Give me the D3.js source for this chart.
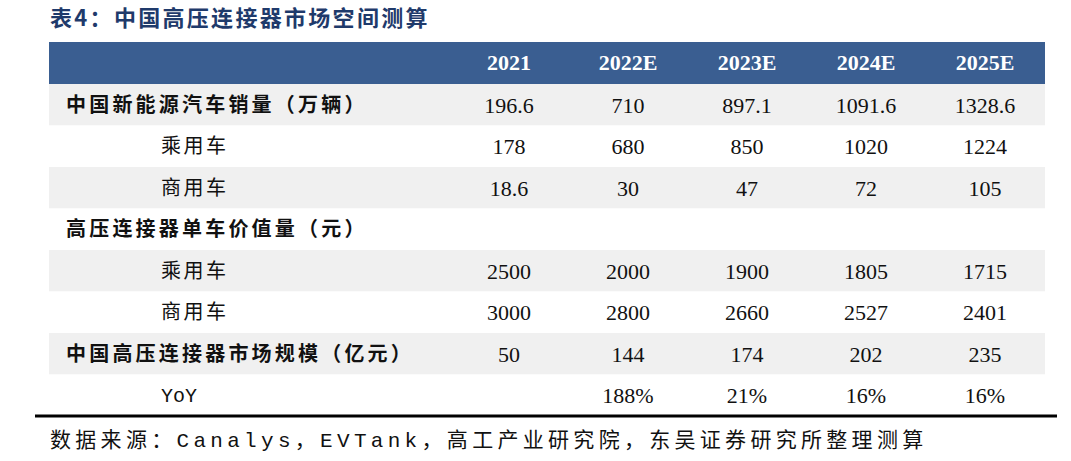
<!DOCTYPE html>
<html><head><meta charset="utf-8">
<script src="https://cdn.jsdelivr.net/npm/d3@7"></script>
<style>body{margin:0;background:#fff}</style></head>
<body><svg id="c" width="1071" height="461"></svg>
<script>
const title = "表4：中国高压连接器市场空间测算";
const years = ["2021","2022E","2023E","2024E","2025E"];
const rowLabels = ["中国新能源汽车销量（万辆）","乘用车","商用车","高压连接器单车价值量（元）","乘用车","商用车","中国高压连接器市场规模（亿元）","YoY"];
const rowBold = [true,false,false,true,false,false,true,false];
const rowValues = [
  ["196.6","710","897.1","1091.6","1328.6"],
  ["178","680","850","1020","1224"],
  ["18.6","30","47","72","105"],
  ["","","","",""],
  ["2500","2000","1900","1805","1715"],
  ["3000","2800","2660","2527","2401"],
  ["50","144","174","202","235"],
  ["","188%","21%","16%","16%"]
];
const source = "数据来源：Canalys，EVTank，高工产业研究院，东吴证券研究所整理测算";

const svg = d3.select("#c");
const x = d3.scalePoint().domain(years).range([509,985]);
const y = d3.scaleBand().domain(d3.range(rowLabels.length)).range([84,416]).padding(0);
const serif = "'Liberation Serif','Noto Sans CJK SC',serif";
const cjk = "'Noto Sans CJK SC',sans-serif";

svg.append("text").attr("x",50).attr("y",26).text(title)
  .attr("font-family",cjk).attr("font-weight","bold").attr("font-size",22).attr("letter-spacing",2.3).attr("fill","#1F3A6B");

svg.append("rect").attr("x",49).attr("y",42).attr("width",996).attr("height",42).attr("fill","#3A5E91");
svg.selectAll("text.h").data(years).join("text").attr("class","h")
  .attr("x",d=>x(d)).attr("y",70).attr("text-anchor","middle").text(d=>d)
  .attr("font-family",serif).attr("font-weight","bold").attr("font-size",22).attr("fill","#fff");

const rows = svg.selectAll("g.r").data(rowLabels).join("g").attr("class","r")
  .attr("transform",(d,i)=>`translate(0,${y(i)})`);
rows.append("rect").attr("x",49).attr("width",996).attr("height",y.bandwidth())
  .attr("fill",(d,i)=>i%2===0?"#F0F0F0":"#fff");
rows.append("text").attr("x",(d,i)=>rowBold[i]?66:161)
  .attr("y",y.bandwidth()/2+7).text(d=>d)
  .attr("font-family",(d)=>d==="YoY"?"'Liberation Mono',monospace":cjk)
  .attr("font-weight",(d,i)=>rowBold[i]?"bold":"normal")
  .attr("letter-spacing",(d,i)=>d==="YoY"?0:(rowBold[i]?3.2:2.5))
  .attr("font-size",20).attr("fill","#111");
rows.each(function(d,i){
  d3.select(this).selectAll("text.v").data(rowValues[i]).join("text").attr("class","v")
    .attr("x",(v,j)=>x(years[j])).attr("y",y.bandwidth()/2+8).attr("text-anchor","middle").text(v=>v)
    .attr("font-family",serif).attr("font-size",22).attr("fill","#111");
});
svg.append("line").attr("x1",35).attr("x2",1057).attr("y1",416).attr("y2",416).attr("stroke","#000").attr("stroke-width",3);
svg.append("text").attr("x",50).attr("y",447).text(source)
  .attr("font-family","'Liberation Mono','Noto Sans CJK SC',monospace").attr("font-size",21).attr("letter-spacing",4.3).attr("fill","#111");
</script></body></html>
